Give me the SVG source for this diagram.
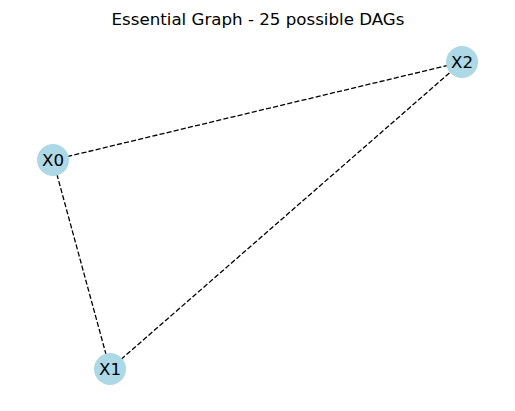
<svg xmlns="http://www.w3.org/2000/svg" width="515" height="411" viewBox="0 0 515 411">
<style>
.edge{stroke:#000;stroke-width:1.3;stroke-dasharray:5.1,2.2;fill:none}
.node circle{fill:#add8e6}
text{font-family:"DejaVu Sans",sans-serif;font-size:16.67px;fill:#000}
.lbl{text-anchor:middle;dominant-baseline:central}
</style>
<rect width="515" height="411" fill="#fff"/>
<text x="258" y="25" text-anchor="middle">Essential Graph - 25 possible DAGs</text>
<g id="connectors">
<line class="edge" x1="53" y1="160" x2="462" y2="62"/>
<line class="edge" x1="53" y1="160" x2="110" y2="369"/>
<line class="edge" x1="110" y1="369" x2="462" y2="62"/>
</g>
<g id="X0" class="node"><circle cx="53" cy="160" r="16"/><text class="lbl" x="53" y="160">X0</text></g>
<g id="X1" class="node"><circle cx="110" cy="369" r="16"/><text class="lbl" x="110" y="369">X1</text></g>
<g id="X2" class="node"><circle cx="462" cy="62" r="16"/><text class="lbl" x="462" y="62">X2</text></g>
</svg>
